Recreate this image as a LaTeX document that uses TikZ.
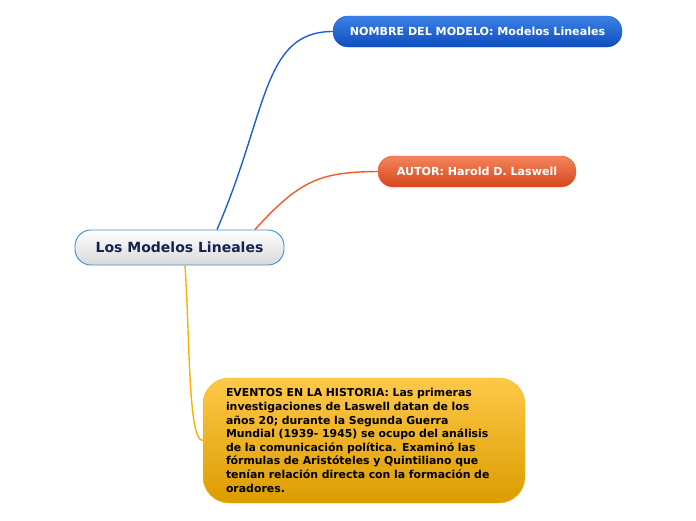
\documentclass[tikz,border=0pt]{standalone}
\usepackage{fontspec}
\setmainfont{DejaVu Sans}
\usepackage{tikz}

\definecolor{rootedge}{HTML}{3A8FD0}
\definecolor{roottext}{HTML}{14234F}
\definecolor{blueedge}{HTML}{1A5FD8}
\definecolor{bluetop}{HTML}{3C82E6}
\definecolor{bluebot}{HTML}{0F4DBE}
\definecolor{orangeedge}{HTML}{EE5A28}
\definecolor{orangetop}{HTML}{F4845C}
\definecolor{orangebot}{HTML}{D4461C}
\definecolor{yellowedge}{HTML}{F8B818}
\definecolor{yellowline}{HTML}{F9B000}
\definecolor{yellowtop}{HTML}{FEC848}
\definecolor{yellowbot}{HTML}{DC9C00}

\tikzset{
  topic/.style={rounded corners=15pt, inner sep=0pt, font=\bfseries\fontsize{11.1}{13}\selectfont, text=white},
  central/.style={rounded corners=16pt, inner sep=0pt, draw=rootedge, line width=0.9pt,
    top color=white, bottom color=gray!30, text=roottext, font=\bfseries\fontsize{14}{16}\selectfont},
  branch/.style={line width=1.4pt}
}

\begin{document}
\begin{tikzpicture}[x=1pt,y=-1pt]
  \useasboundingbox (0,0) rectangle (696,520);
  % nodes
  \node[central, minimum width=209pt, minimum height=35pt] (root) at (179.5,247.5) {Los Modelos Lineales};
  \node[topic, draw=blueedge, top color=bluetop, bottom color=bluebot, minimum width=289pt, minimum height=31pt] (nombre) at (477.5,31.5) {NOMBRE DEL MODELO: Modelos Lineales};
  \node[topic, draw=orangeedge, top color=orangetop, bottom color=orangebot, minimum width=198pt, minimum height=31pt] (autor) at (477,171.5) {AUTOR: Harold D. Laswell};
  \node[topic, rounded corners=26pt, draw=yellowedge, top color=yellowtop, bottom color=yellowbot, text=black,
    text width=276pt, inner xsep=23pt, minimum height=125pt, align=left,
    font=\bfseries\fontsize{10.9}{13.6}\selectfont] (eventos) at (364,440.5)
    {EVENTOS EN LA HISTORIA: Las primeras\\investigaciones de Laswell datan de los\\años 20; durante la Segunda Guerra\\Mundial (1939- 1945) se ocupo del análisis\\de la comunicación política. Examinó las\\fórmulas de Aristóteles y Quintiliano que\\tenían relación directa con la formación de\\oradores.};
  % branches
  \draw[branch, blueedge] ([xshift=37.5pt]root.north) .. controls (268,112) and (262,31.5) .. (nombre.west);
  \draw[branch, orangeedge] ([xshift=75.5pt]root.north) .. controls (300,180) and (320,172) .. (autor.west);
  \draw[branch, yellowline] ([xshift=5.5pt]root.south) .. controls (190,340) and (188,441) .. (eventos.west);
\end{tikzpicture}
\end{document}
